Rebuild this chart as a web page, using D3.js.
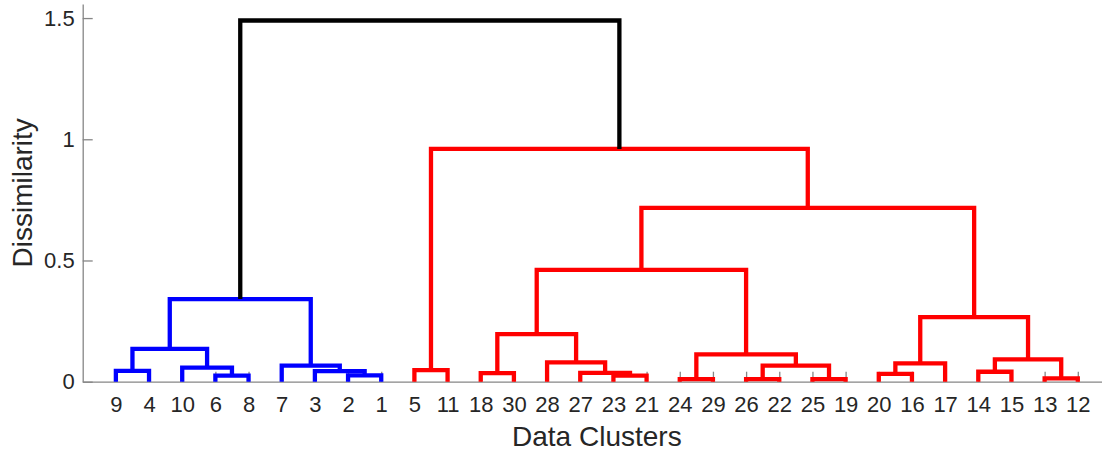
<!DOCTYPE html>
<html>
<head>
<meta charset="utf-8">
<script src="https://cdnjs.cloudflare.com/ajax/libs/d3/7.8.5/d3.min.js"></script>
<style>
  body { margin: 0; background: #fff; }
  svg text { font-family: "Liberation Sans", Arial, sans-serif; fill: #262626; }
</style>
</head>
<body>
<script>
// leaf order along the x axis (as drawn)
var leafLabels = [9, 4, 10, 6, 8, 7, 3, 2, 1, 5, 11, 18, 30, 28, 27, 23, 21,
                  24, 29, 26, 22, 25, 19, 20, 16, 17, 14, 15, 13, 12];

// linkage rows, matlab style: ids 1..30 are leaves, row i makes cluster 30+i
var linkLeft   = [9, 6, 10, 31, 2, 3, 7, 34, 5, 18, 23, 27, 28, 40, 24, 26, 25, 46, 45, 44,
                  20, 51, 14, 13, 53, 52, 50, 39, 38];
var linkRight  = [4, 8, 32, 33, 1, 35, 36, 37, 11, 30, 21, 41, 42, 43, 29, 22, 19, 47, 48, 49,
                  16, 17, 15, 12, 54, 55, 56, 57, 58];
var linkHeight = [0.045, 0.025, 0.058, 0.135, 0.026, 0.044, 0.066, 0.341, 0.048, 0.035, 0.025,
                  0.036, 0.080, 0.196, 0.011, 0.011, 0.011, 0.066, 0.113, 0.461,
                  0.032, 0.076, 0.041, 0.014, 0.092, 0.266, 0.717, 0.960, 1.490];

var yTicks = [0, 0.5, 1, 1.5];

var width = 1102, height = 452;
var nLeaves = leafLabels.length;

var svg = d3.select("body").append("svg")
    .attr("width", width)
    .attr("height", height);

var x = d3.scaleLinear().domain([0, nLeaves + 1]).range([82.7, 82.7 + 31 * 33.17]);
var y = d3.scaleLinear().domain([0, 1.558]).range([381.7, 4]);

// x position and height of every node (leaf or cluster)
var nodeX = {}, nodeH = {};
leafLabels.forEach(function(l, i) { nodeX[l] = i + 1; nodeH[l] = 0; });
linkLeft.forEach(function(a, i) {
  var id = nLeaves + 1 + i, b = linkRight[i];
  nodeX[id] = (nodeX[a] + nodeX[b]) / 2;
  nodeH[id] = linkHeight[i];
});

// colour like matlab: below 0.7*max each subtree gets its own colour
var threshold = 0.7 * d3.max(linkHeight);
var groupColor = ["#0000ff", "#ff0000"];
var linkColor = new Array(linkLeft.length).fill("#000");
var groupIdx = 0;
function paint(id, col) {
  if (id <= nLeaves) return;
  var i = id - nLeaves - 1;
  linkColor[i] = col;
  paint(linkLeft[i], col);
  paint(linkRight[i], col);
}
// walk from the root, left to right, to find the coloured subtrees
function findGroups(id) {
  if (id <= nLeaves) return;
  var i = id - nLeaves - 1;
  if (linkHeight[i] < threshold) {
    paint(id, groupColor[groupIdx++ % groupColor.length]);
  } else {
    findGroups(linkLeft[i]);
    findGroups(linkRight[i]);
  }
}
findGroups(nLeaves + linkLeft.length);

// axes
var axisColor = "#868686";

var xAxis = svg.append("g")
    .attr("transform", "translate(0," + y(0) + ")")
    .call(d3.axisBottom(x)
      .tickValues(d3.range(1, nLeaves + 1))
      .tickFormat(function(d) { return leafLabels[d - 1]; })
      .tickSizeInner(-10)
      .tickSizeOuter(0)
      .tickPadding(15));
xAxis.selectAll("text").style("font-size", "22px").attr("fill", null);

var yAxis = svg.append("g")
    .attr("transform", "translate(" + x(0) + ",0)")
    .call(d3.axisLeft(y)
      .tickValues(yTicks)
      .tickFormat(d3.format("~g"))
      .tickSizeInner(-10)
      .tickSizeOuter(0)
      .tickPadding(8));
yAxis.selectAll("text").style("font-size", "22px").attr("fill", null);

svg.selectAll(".domain, .tick line").attr("stroke", axisColor).attr("stroke-width", 1.3);

// dendrogram links
var line = d3.line().x(function(d) { return x(d[0]); }).y(function(d) { return y(d[1]); });

svg.append("g").selectAll("path")
    .data(linkLeft.map(function(a, i) { return i; }))
  .enter().append("path")
    .attr("d", function(i) {
      var a = linkLeft[i], b = linkRight[i], h = linkHeight[i];
      return line([[nodeX[a], nodeH[a]], [nodeX[a], h], [nodeX[b], h], [nodeX[b], nodeH[b]]]);
    })
    .attr("fill", "none")
    .attr("stroke", function(i) { return linkColor[i]; })
    .attr("stroke-width", 4.3)
    .attr("stroke-linejoin", "miter");

// axis titles
svg.append("text")
    .attr("x", x(nLeaves + 1) / 2 + x(0) / 2)
    .attr("y", 446)
    .style("text-anchor", "middle")
    .style("font-size", "28px")
    .text("Data Clusters");

svg.append("text")
    .attr("transform", "translate(32," + (y(0) + y(1.558)) / 2 + ") rotate(-90)")
    .style("text-anchor", "middle")
    .style("font-size", "28px")
    .text("Dissimilarity");
</script>
</body>
</html>
